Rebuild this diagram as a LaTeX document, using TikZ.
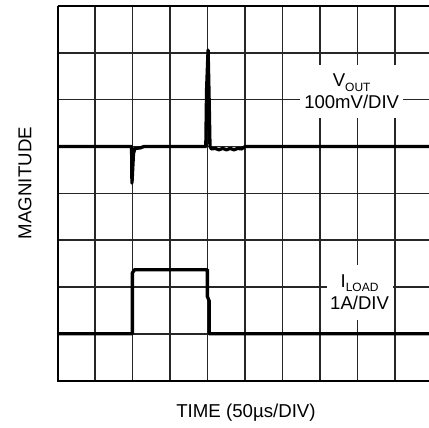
\documentclass[tikz,border=0pt]{standalone}
\usepackage{fontspec}
\setmainfont{Liberation Sans}
\usepackage{tikz}
\newcommand{\lowsub}[1]{\raisebox{-3.2pt}{\fontsize{9}{9}\selectfont #1}}
\tikzset{gridline/.style={draw=black!85, line width=1.1pt},
         trace/.style={black, line width=2.5pt, line join=round},
         tag/.style={fill=white, align=center, inner sep=0pt, font=\fontsize{13.9}{16.5}\selectfont},
         axislabel/.style={font=\fontsize{14}{16}\selectfont}}

\begin{document}
\begin{tikzpicture}[x=28.125pt, y=35.12pt]
    \useasboundingbox (-1.539, -1.010) rectangle (9.901, 8.129);

    \foreach \i in {1, ..., 9} {
        \draw [gridline] (\i, 0) -- (\i, 8);
    }
    \foreach \j in {1, ..., 7} {
        \draw [gridline] (0, \j) -- (9.901, \j);
    }
    \draw [black, line width=1.2pt] (0, 8) -- (9.901, 8);
    \draw [black, line width=1.7pt] (0, 8) -- (0, 0) -- (9.901, 0);

    \node [tag, minimum width=77pt, minimum height=40pt] (vout) at (7.84, 6.175) {V\lowsub{OUT}\\100mV/DIV};
    \node [tag, minimum width=49.5pt, minimum height=41pt] (iload) at (8.05, 1.885) {I\lowsub{LOAD}\\1A/DIV};

    \draw [trace] (0, 5) -- (1.97, 5) -- (1.98, 4.22) -- (2.02, 4.85) -- (2.06, 4.96) -- (2.2, 4.97) -- (2.3, 5)
        -- (3.95, 5) -- (3.97, 6.2) -- (4.01, 7.06) -- (4.04, 5.9) -- (4.06, 5.0) -- (4.1, 4.95)
        -- (4.2, 4.96) -- (4.3, 4.93) -- (4.4, 4.96) -- (4.5, 4.93) -- (4.6, 4.96) -- (4.7, 4.93)
        -- (4.8, 4.96) -- (4.9, 4.95) -- (5.0, 5) -- (9.901, 5);
    \draw [trace] (0, 1) -- (1.99, 1) -- (1.99, 2.3) -- (2.05, 2.37) -- (3.99, 2.37) -- (3.99, 1.8)
        -- (4.04, 1.7) -- (4.04, 1) -- (9.901, 1);

    \node [axislabel, rotate=90] (ylabel) at (-0.872, 4.22) {MAGNITUDE};
    \node [axislabel] (xlabel) at (5.02, -0.69) {TIME (50µs/DIV)};
\end{tikzpicture}
\end{document}
